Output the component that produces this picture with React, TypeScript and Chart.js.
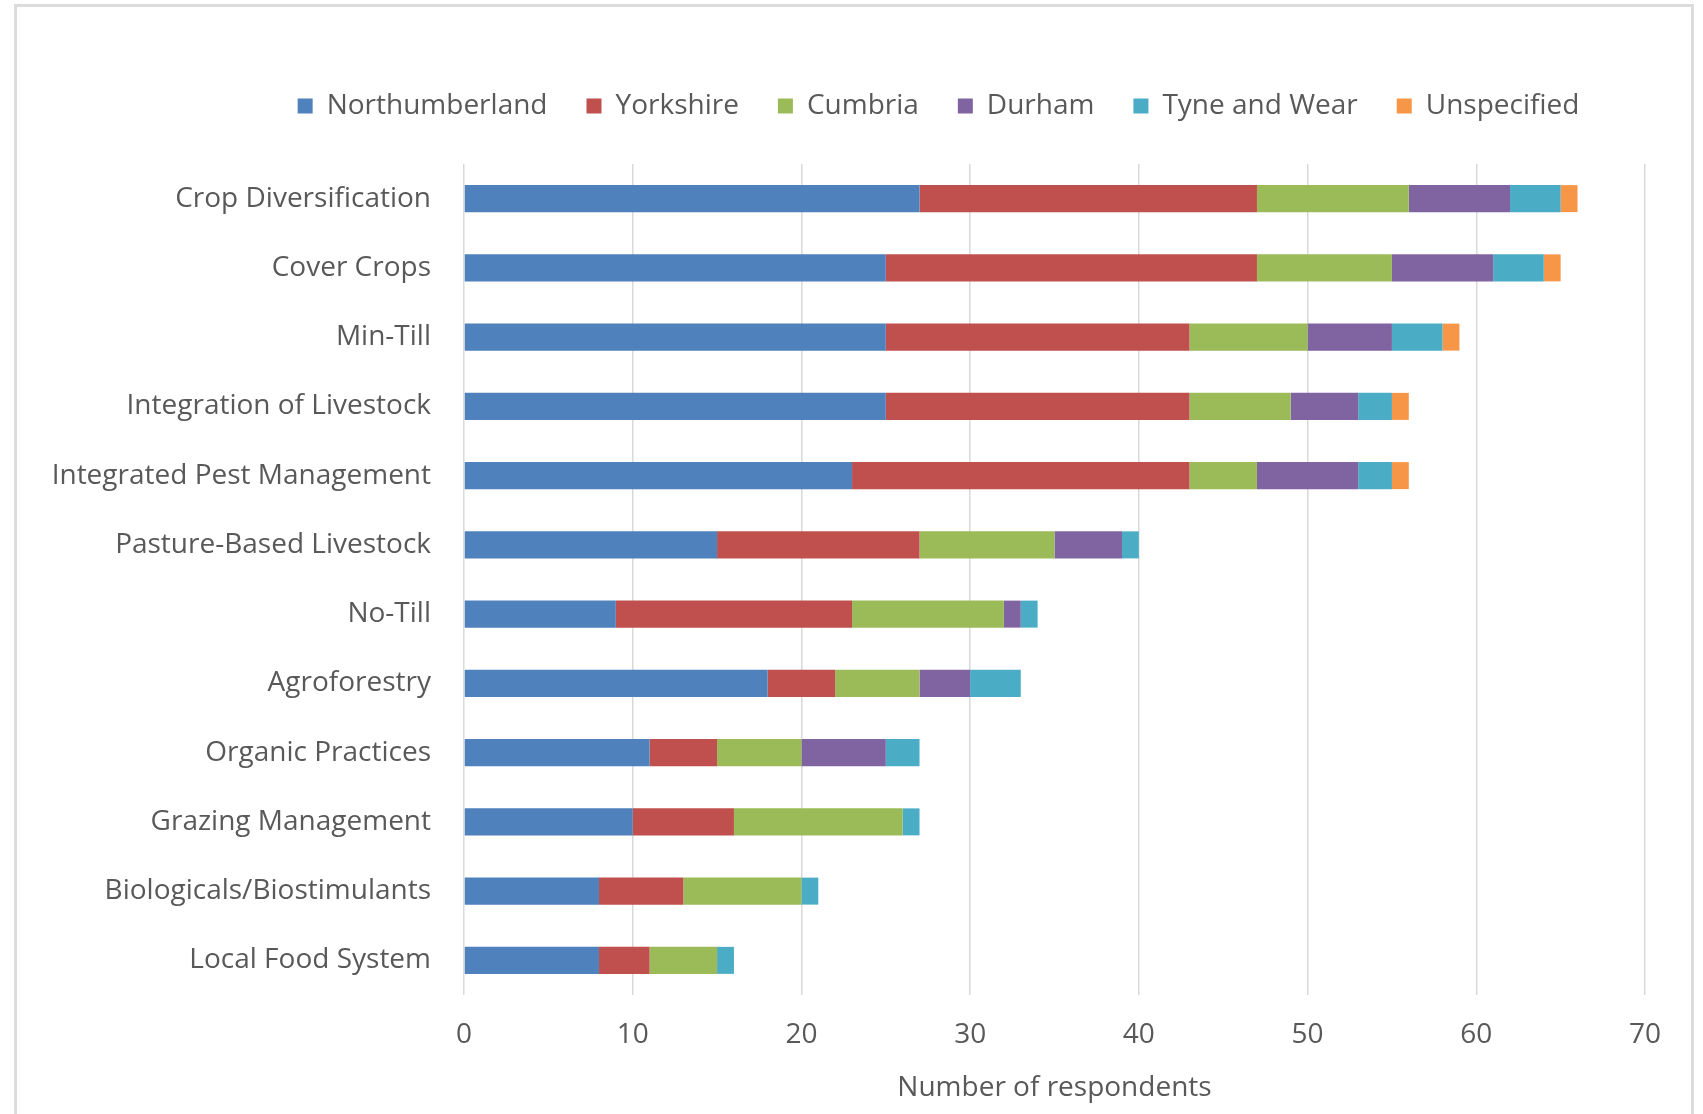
import React, { useEffect, useRef } from "react";
import { Chart, registerables } from "chart.js";

Chart.register(...registerables);

const categories = [
  "Crop Diversification",
  "Cover Crops",
  "Min-Till",
  "Integration of Livestock",
  "Integrated Pest Management",
  "Pasture-Based Livestock",
  "No-Till",
  "Agroforestry",
  "Organic Practices",
  "Grazing Management",
  "Biologicals/Biostimulants",
  "Local Food System",
];

const northumberland = [27, 25, 25, 25, 23, 15, 9, 18, 11, 10, 8, 8];
const yorkshire = [20, 22, 18, 18, 20, 12, 14, 4, 4, 6, 5, 3];
const cumbria = [9, 8, 7, 6, 4, 8, 9, 5, 5, 10, 7, 4];
const durham = [6, 6, 5, 4, 6, 4, 1, 3, 5, 0, 0, 0];
const tyneAndWear = [3, 3, 3, 2, 2, 1, 1, 3, 2, 1, 1, 1];
const unspecified = [1, 1, 1, 1, 1, 0, 0, 0, 0, 0, 0, 0];

const seriesNames = ["Northumberland", "Yorkshire", "Cumbria", "Durham", "Tyne and Wear", "Unspecified"];
const seriesValues = [northumberland, yorkshire, cumbria, durham, tyneAndWear, unspecified];
const seriesColors = ["#4F81BD", "#C0504D", "#9BBB59", "#8064A2", "#4BACC6", "#F79646"];

const xTicks = [0, 10, 20, 30, 40, 50, 60, 70];

const FONT = "'Open Sans', 'Noto Sans', sans-serif";
const TEXT = "#595959";
const SIZE = 28;

// Extra room under the legend row, and a rightward nudge so the legend
// sits centred over the bars rather than the whole canvas.
const legendPlacement = {
  id: "legendPlacement",
  afterInit(chart: any) {
    const legend = chart.legend;
    if (!legend) return;
    const fit = legend.fit;
    legend.fit = function () {
      fit.call(legend);
      legend.height += 34;
    };
  },
  afterLayout(chart: any) {
    const legend = chart.legend;
    if (!legend) return;
    legend.left += 106;
    legend.right += 106;
  },
};

export default function App() {
  const canvasRef = useRef<HTMLCanvasElement | null>(null);

  useEffect(() => {
    const canvas = canvasRef.current;
    if (!canvas) return;
    const chart = new Chart(canvas, {
      type: "bar",
      data: {
        labels: categories,
        datasets: seriesNames.map((name, i) => ({
          label: name,
          data: seriesValues[i],
          backgroundColor: seriesColors[i],
          borderWidth: 0,
          barPercentage: 0.39,
          categoryPercentage: 1,
        })),
      },
      options: {
        indexAxis: "y",
        responsive: false,
        animation: false,
        layout: { padding: { left: 20, right: 58, top: 53, bottom: 0 } },
        plugins: {
          legend: {
            position: "top",
            align: "center",
            labels: {
              boxWidth: 15,
              boxHeight: 15,
              padding: 39,
              color: TEXT,
              font: { family: FONT, size: SIZE },
            },
          },
          tooltip: { enabled: false },
        },
        scales: {
          x: {
            stacked: true,
            min: xTicks[0],
            max: xTicks[xTicks.length - 1],
            afterBuildTicks: (scale: any) => {
              scale.ticks = xTicks.map((v) => ({ value: v }));
            },
            afterFit: (scale: any) => {
              scale.height = 119;
            },
            grid: { color: "#d9d9d9", lineWidth: 1.5, drawTicks: false },
            border: { display: false },
            ticks: { color: TEXT, font: { family: FONT, size: SIZE }, padding: 23 },
            title: {
              display: true,
              text: "Number of respondents",
              color: TEXT,
              font: { family: FONT, size: SIZE },
              padding: { top: 0, bottom: 9 },
            },
          },
          y: {
            stacked: true,
            afterFit: (scale: any) => {
              scale.width = 444;
            },
            grid: { display: false, drawTicks: false },
            border: { display: false },
            ticks: { color: TEXT, font: { family: FONT, size: SIZE }, padding: 33 },
          },
        },
      },
      plugins: [legendPlacement],
    } as any);
    return () => chart.destroy();
  }, []);

  return (
    <div
      style={{
        position: "absolute",
        left: 0,
        top: 0,
        width: 1703,
        height: 1114,
        overflow: "hidden",
        background: "#ffffff",
      }}
    >
      <div
        style={{
          position: "absolute",
          left: 14,
          top: 4,
          width: 1680,
          height: 1200,
          boxSizing: "border-box",
          border: "3px solid #dcdcdc",
          filter: "blur(0.6px)",
        }}
      />
      <canvas
        ref={canvasRef}
        width={1703}
        height={1114}
        style={{ position: "absolute", left: 0, top: 0 }}
      />
    </div>
  );
}
